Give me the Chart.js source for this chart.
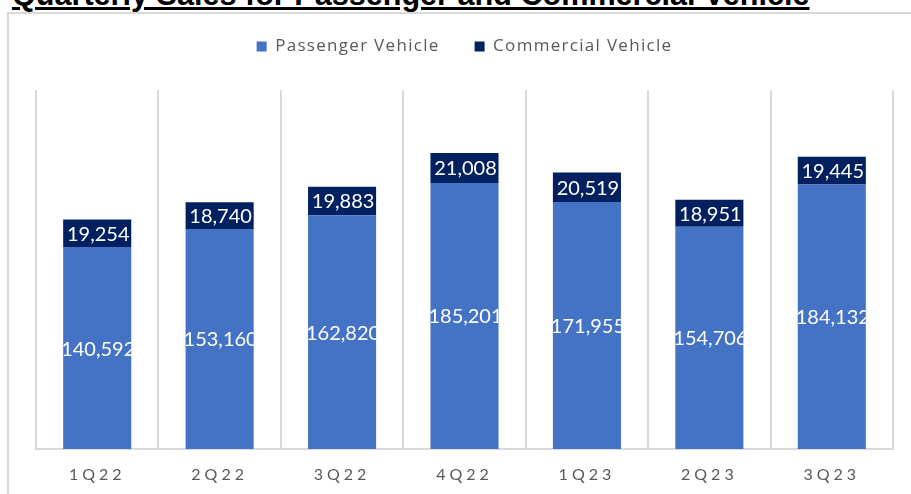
<!DOCTYPE html>
<html>
<head>
<meta charset="utf-8">
<script src="https://cdn.jsdelivr.net/npm/chart.js@4.4.0/dist/chart.umd.min.js"></script>
<style>
    html, body { margin: 0; padding: 0; background: #fff; overflow: hidden; }
    #wrap { position: relative; width: 911px; height: 494px; overflow: hidden; }
    #frame {
        position: absolute; left: 7px; top: 12px; width: 1000px; height: 600px;
        border-top: 2px solid #d9d9d9; border-left: 2px solid #d9d9d9;
    }
    #title {
        position: absolute; left: 12px; top: -21px; line-height: 1;
        font-family: "Liberation Sans", Arial, sans-serif; font-weight: bold; font-size: 30.6px;
        text-decoration: underline; text-decoration-thickness: 3px; white-space: nowrap; color: #000;
    }
    canvas { position: absolute; left: 0; top: 0; }
</style>
</head>
<body>
<div id="wrap">
    <div id="frame"></div>
    <div id="title">Quarterly Sales for Passenger and Commercial Vehicle</div>
    <canvas id="salesChart" width="911" height="494"></canvas>
</div>
<script>
// Quarters on the x axis
const quarters = ['1Q22', '2Q22', '3Q22', '4Q22', '1Q23', '2Q23', '3Q23'];

// Units sold per quarter
const passengerSales = [140592, 153160, 162820, 185201, 171955, 154706, 184132];
const commercialSales = [19254, 18740, 19883, 21008, 20519, 18951, 19445];

const yMax = 250000;

const textGray = '#595959';
const gridGray = '#d9d9d9';

// Legend: extra room below it, and its own letter spacing
const legendTweaks = {
    id: 'legendTweaks',
    beforeInit(chart) {
        const legend = chart.legend;
        const origFit = legend.fit;
        legend.fit = function () {
            this.ctx.save();
            this.ctx.letterSpacing = '1.3px';
            origFit.call(this);
            this.ctx.restore();
            this.height += 25;
        };
        const origDraw = legend.draw;
        legend.draw = function () {
            this.ctx.save();
            this.ctx.letterSpacing = '1.3px';
            origDraw.call(this);
            this.ctx.restore();
        };
    }
};

// Spaced out quarter labels
const tickSpacing = {
    id: 'tickSpacing',
    beforeDraw(chart) { chart.ctx.letterSpacing = '4px'; },
    beforeDatasetsDraw(chart) { chart.ctx.letterSpacing = '0px'; }
};

// White value labels in each segment, clipped to the bar like the original
const segmentLabels = {
    id: 'segmentLabels',
    afterDatasetsDraw(chart) {
        const ctx = chart.ctx;
        chart.data.datasets.forEach((ds, di) => {
            const meta = chart.getDatasetMeta(di);
            meta.data.forEach((bar, i) => {
                const half = bar.width / 2;
                const top = Math.min(bar.y, bar.base);
                const h = Math.abs(bar.base - bar.y);
                ctx.save();
                ctx.beginPath();
                ctx.rect(bar.x - half, top, bar.width, h);
                ctx.clip();
                ctx.fillStyle = '#ffffff';
                ctx.font = '20px Lato, "Open Sans", sans-serif';
                ctx.textAlign = 'center';
                ctx.textBaseline = 'middle';
                ctx.fillText(ds.data[i].toLocaleString('en-US'), bar.x + 1, top + h / 2 + 1);
                ctx.restore();
            });
        });
    }
};

new Chart(document.getElementById('salesChart'), {
    type: 'bar',
    data: {
        labels: quarters,
        datasets: [
            {
                label: 'Passenger Vehicle',
                data: passengerSales,
                backgroundColor: '#4472c4',
                categoryPercentage: 1,
                barPercentage: 0.556
            },
            {
                label: 'Commercial Vehicle',
                data: commercialSales,
                backgroundColor: '#002060',
                categoryPercentage: 1,
                barPercentage: 0.556
            }
        ]
    },
    options: {
        responsive: false,
        animation: false,
        layout: { padding: { left: 36, right: 18, top: 3, bottom: 0 } },
        plugins: {
            legend: {
                position: 'top',
                labels: {
                    boxWidth: 10,
                    boxHeight: 10,
                    padding: 35,
                    color: textGray,
                    font: { family: '"Open Sans", Lato, sans-serif', size: 17 }
                }
            },
            tooltip: { enabled: false }
        },
        scales: {
            x: {
                stacked: true,
                afterFit(scale) { scale.height = 45; },
                grid: { color: gridGray, lineWidth: 2, drawTicks: false },
                border: { color: gridGray, width: 2 },
                ticks: {
                    color: textGray,
                    padding: 16,
                    font: { family: 'Lato, "Open Sans", sans-serif', size: 16 }
                }
            },
            y: {
                stacked: true,
                display: false,
                min: 0,
                max: yMax
            }
        }
    },
    plugins: [legendTweaks, tickSpacing, segmentLabels]
});
</script>
</body>
</html>
